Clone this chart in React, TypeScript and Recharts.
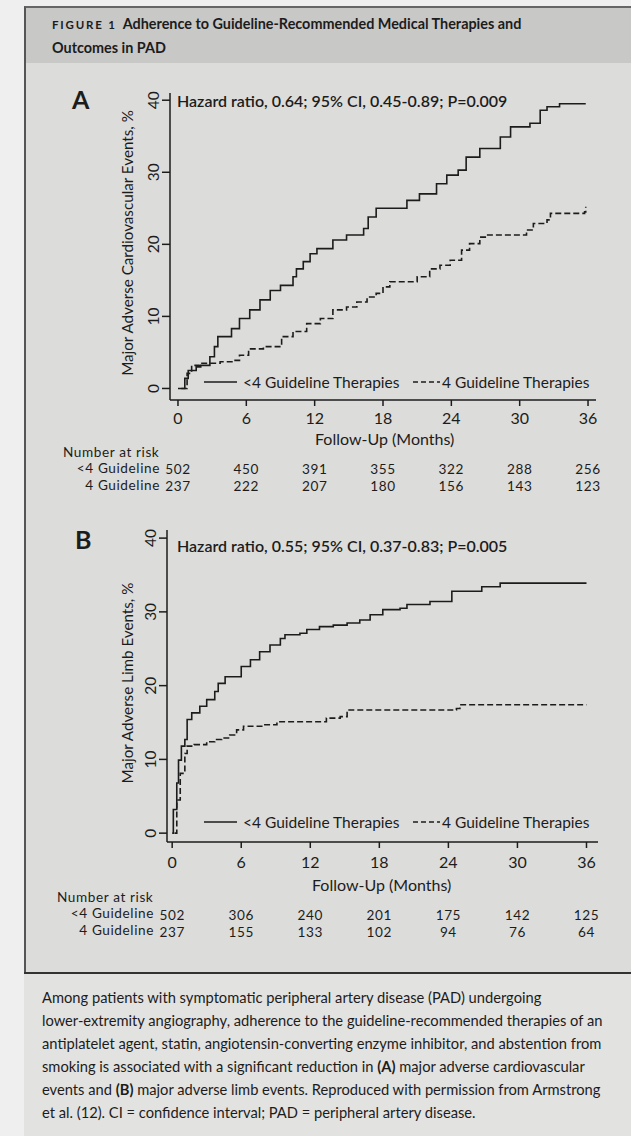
import { LineChart, Line, XAxis, YAxis } from 'recharts'

// follow-up months and number at risk
const months = [0, 6, 12, 18, 24, 30, 36]
const riskMaceUnder4 = [502, 450, 391, 355, 322, 288, 256]
const riskMaceFour = [237, 222, 207, 180, 156, 143, 123]
const riskMaleUnder4 = [502, 306, 240, 201, 175, 142, 125]
const riskMaleFour = [237, 155, 133, 102, 94, 76, 64]
const yTicks = [0, 10, 20, 30, 40]

// panel A, cumulative MACE %
const maceUnder4 = [
  { t: 0, v: 0 }, { t: 0.6, v: 1.4 }, { t: 0.9, v: 2.5 }, { t: 1.6, v: 3.0 }, { t: 2.0, v: 3.2 },
  { t: 2.8, v: 4.4 }, { t: 3.2, v: 5.8 }, { t: 3.5, v: 7.2 }, { t: 4.7, v: 8.3 }, { t: 5.4, v: 9.7 },
  { t: 6.3, v: 10.9 }, { t: 7.2, v: 12.3 }, { t: 8.1, v: 13.6 }, { t: 9.0, v: 14.3 }, { t: 10.1, v: 15.5 },
  { t: 10.4, v: 16.6 }, { t: 11.0, v: 17.6 }, { t: 11.6, v: 18.7 }, { t: 12.2, v: 19.4 }, { t: 13.6, v: 20.6 },
  { t: 14.8, v: 21.3 }, { t: 16.3, v: 22.2 }, { t: 16.7, v: 23.8 }, { t: 17.4, v: 25.0 }, { t: 19.2, v: 25.0 },
  { t: 20.1, v: 26.1 }, { t: 21.2, v: 27.0 }, { t: 22.7, v: 28.4 }, { t: 23.6, v: 29.6 }, { t: 24.6, v: 30.3 },
  { t: 25.3, v: 32.1 }, { t: 26.5, v: 33.3 }, { t: 28.3, v: 34.9 }, { t: 29.2, v: 36.3 }, { t: 30.9, v: 36.8 },
  { t: 31.8, v: 38.6 }, { t: 32.4, v: 39.1 }, { t: 33.5, v: 39.5 }, { t: 35.8, v: 39.5 },
]
const maceFour = [
  { t: 0.3, v: 0 }, { t: 0.8, v: 2.1 }, { t: 1.2, v: 3.2 }, { t: 1.9, v: 3.5 }, { t: 3.7, v: 3.7 },
  { t: 4.9, v: 3.9 }, { t: 5.4, v: 4.6 }, { t: 6.2, v: 5.5 }, { t: 7.5, v: 5.8 }, { t: 9.0, v: 5.8 },
  { t: 9.1, v: 7.2 }, { t: 10.1, v: 7.9 }, { t: 11.3, v: 9.0 }, { t: 12.5, v: 9.7 }, { t: 13.6, v: 10.9 },
  { t: 14.8, v: 11.3 }, { t: 15.7, v: 12.0 }, { t: 16.6, v: 12.7 }, { t: 17.4, v: 13.2 }, { t: 18.0, v: 14.1 },
  { t: 18.6, v: 14.8 }, { t: 19.8, v: 14.8 }, { t: 21.0, v: 15.5 }, { t: 22.1, v: 16.6 }, { t: 23.0, v: 17.1 },
  { t: 23.9, v: 17.8 }, { t: 24.9, v: 19.2 }, { t: 25.6, v: 20.1 }, { t: 26.5, v: 21.0 }, { t: 27.1, v: 21.3 },
  { t: 29.4, v: 21.3 }, { t: 30.6, v: 22.0 }, { t: 31.2, v: 22.9 }, { t: 32.4, v: 23.4 }, { t: 32.7, v: 24.3 },
  { t: 35.7, v: 24.5 }, { t: 35.8, v: 25.2 },
]

// panel B, cumulative MALE %
const maleUnder4 = [
  { t: 0, v: 0 }, { t: 0.1, v: 3.2 }, { t: 0.4, v: 6.8 }, { t: 0.55, v: 9.9 }, { t: 0.8, v: 11.8 },
  { t: 1.1, v: 12.7 }, { t: 1.3, v: 15.4 }, { t: 1.7, v: 16.3 }, { t: 2.4, v: 17.2 }, { t: 3.0, v: 18.1 },
  { t: 3.7, v: 19.2 }, { t: 4.0, v: 20.3 }, { t: 4.6, v: 21.2 }, { t: 5.6, v: 21.2 }, { t: 6.0, v: 22.6 },
  { t: 6.8, v: 23.5 }, { t: 7.6, v: 24.6 }, { t: 8.5, v: 25.5 }, { t: 9.4, v: 26.4 }, { t: 9.8, v: 26.9 },
  { t: 11.1, v: 27.1 }, { t: 11.7, v: 27.6 }, { t: 12.8, v: 28.0 }, { t: 14.0, v: 28.2 }, { t: 15.2, v: 28.5 },
  { t: 16.3, v: 28.9 }, { t: 17.2, v: 29.6 }, { t: 18.3, v: 30.3 }, { t: 19.8, v: 30.5 }, { t: 20.4, v: 31.0 },
  { t: 22.4, v: 31.4 }, { t: 24.3, v: 32.8 }, { t: 26.9, v: 33.4 }, { t: 28.5, v: 33.9 }, { t: 36.0, v: 33.9 },
]
const maleFour = [
  { t: 0.2, v: 0 }, { t: 0.4, v: 4.5 }, { t: 0.7, v: 8.1 }, { t: 1.1, v: 10.8 }, { t: 1.3, v: 11.8 },
  { t: 1.9, v: 12.0 }, { t: 3.0, v: 12.4 }, { t: 3.7, v: 12.7 }, { t: 4.3, v: 12.9 }, { t: 5.0, v: 13.3 },
  { t: 5.6, v: 14.0 }, { t: 6.2, v: 14.5 }, { t: 7.9, v: 14.7 }, { t: 9.1, v: 15.1 }, { t: 13.1, v: 15.1 },
  { t: 13.4, v: 15.6 }, { t: 14.6, v: 15.8 }, { t: 15.2, v: 16.7 }, { t: 24.7, v: 16.9 }, { t: 25.0, v: 17.4 },
  { t: 36.0, v: 17.4 },
]

const INK = '#1c1c1c'
const FONT = 'Lato, "Open Sans", sans-serif'
const RISK_FS = 13.6

function YTick({ x, y, payload }: any) {
  return (
    <text x={x - 1} y={y} transform={`rotate(-90, ${x - 1}, ${y})`} textAnchor="middle" fontSize={15.5} fill={INK} fontFamily={FONT}>
      {payload.value}
    </text>
  )
}

function makeXTick(row1: number[], row2: number[], offs: number[]) {
  return function XTick({ x, y, payload }: any) {
    const i = months.indexOf(payload.value)
    return (
      <g fontFamily={FONT} fill={INK} textAnchor="middle">
        <text x={x} y={y + offs[0]} fontSize={16}>{payload.value}</text>
        <text x={x} y={y + offs[1]} fontSize={RISK_FS} letterSpacing={0.6}>{row1[i]}</text>
        <text x={x} y={y + offs[2]} fontSize={RISK_FS} letterSpacing={0.6}>{row2[i]}</text>
      </g>
    )
  }
}

function Panel(props: any) {
  const { top, margin, xDomain, yDomain, solid, dashed, tick } = props
  return (
    <div style={{ position: 'absolute', left: 0, top }}>
      <LineChart width={631} height={500} margin={margin}>
        <XAxis
          type="number"
          dataKey="t"
          domain={xDomain}
          ticks={months}
          allowDataOverflow
          height={90}
          tickSize={6}
          stroke={INK}
          strokeWidth={1.5}
          tick={tick}
        />
        <YAxis
          type="number"
          dataKey="v"
          domain={yDomain}
          ticks={yTicks}
          allowDataOverflow
          width={30}
          tickSize={8}
          stroke={INK}
          strokeWidth={1.5}
          tick={<YTick />}
        />
        <Line data={solid} dataKey="v" type="stepAfter" stroke={INK} strokeWidth={1.6} dot={false} isAnimationActive={false} />
        <Line data={dashed} dataKey="v" type="stepAfter" stroke={INK} strokeWidth={1.6} strokeDasharray="6 3" dot={false} isAnimationActive={false} />
      </LineChart>
    </div>
  )
}

const abs = (left: number, top: number, extra: any = {}) => ({
  position: 'absolute' as const, left, top, transform: 'translateY(-50%)', whiteSpace: 'nowrap' as const, ...extra,
})

function LegendRow({ top }: { top: number }) {
  return (
    <>
      <svg style={{ position: 'absolute', left: 0, top: top - 5 }} width={631} height={10}>
        <line x1={204} x2={237} y1={5} y2={5} stroke={INK} strokeWidth={1.6} />
        <line x1={413} x2={440} y1={5} y2={5} stroke={INK} strokeWidth={1.6} strokeDasharray="5 3" />
      </svg>
      <div style={abs(243, top, { fontSize: 15.5 })}>&lt;4 Guideline Therapies</div>
      <div style={abs(442, top, { fontSize: 15.5 })}>4 Guideline Therapies</div>
    </>
  )
}

function RiskLabels({ top, right }: { top: number; right: number }) {
  const s = { fontSize: RISK_FS, letterSpacing: 0.6, lineHeight: '14px' }
  return (
    <>
      <div style={abs(right - 97, top - 0.5, s)}>Number at risk</div>
      <div style={abs(0, top + 16.2, { ...s, width: right, textAlign: 'right' })}>&lt;4 Guideline</div>
      <div style={abs(0, top + 32.8, { ...s, width: right, textAlign: 'right' })}>4 Guideline</div>
    </>
  )
}

function RotLabel({ x, y, text }: { x: number; y: number; text: string }) {
  return (
    <div style={{ position: 'absolute', left: x, top: y, transform: 'translate(-50%, -50%) rotate(-90deg)', whiteSpace: 'nowrap', fontSize: 15.2 }}>
      {text}
    </div>
  )
}

export default function App() {
  return (
    <div style={{ position: 'relative', width: 631, height: 1136, overflow: 'hidden', background: '#efefef', fontFamily: FONT, color: INK }}>
      <style>{'body{margin:0}'}</style>
      <div style={{ position: 'absolute', left: 24, top: 6, width: 607, height: 1130, background: '#dcdcda', borderLeft: '2px solid #555', borderTop: '2px solid #666' }} />
      <div style={{ position: 'absolute', left: 26, top: 8, width: 605, height: 55, background: '#c8c8c6' }} />
      <div style={{ position: 'absolute', left: 24, top: 972, width: 607, height: 164, background: '#e2e2e0', borderTop: '2px solid #333' }} />

      <div style={{ position: 'absolute', left: 52, top: 12, fontSize: 14.4, fontWeight: 700, lineHeight: '23px' }}>
        <span style={{ fontSize: 11.5, letterSpacing: 1.8, marginRight: 6 }}>FIGURE 1</span>
        Adherence to Guideline-Recommended Medical Therapies and
        <br />
        Outcomes in PAD
      </div>

      <div style={abs(72, 99, { fontSize: 25, fontWeight: 700 })}>A</div>
      <div style={abs(75, 539, { fontSize: 25, fontWeight: 700 })}>B</div>

      <Panel
        top={0}
        margin={{ top: 93, right: 35, left: 140, bottom: 10 }}
        xDomain={[-0.7, 36.7]}
        yDomain={[-1.6, 41]}
        solid={maceUnder4}
        dashed={maceFour}
        tick={makeXTick(riskMaceUnder4, riskMaceFour, [16, 66, 82.6])}
      />
      <Panel
        top={440}
        margin={{ top: 90, right: 33, left: 137, bottom: 8 }}
        xDomain={[-0.45, 37]}
        yDomain={[-1.2, 41.1]}
        solid={maleUnder4}
        dashed={maleFour}
        tick={makeXTick(riskMaleUnder4, riskMaleFour, [18, 70, 86.6])}
      />

      <div style={abs(177, 100, { fontSize: 16, fontWeight: 600 })}>Hazard ratio, 0.64; 95% CI, 0.45-0.89; P=0.009</div>
      <div style={abs(177, 545, { fontSize: 16, fontWeight: 600 })}>Hazard ratio, 0.55; 95% CI, 0.37-0.83; P=0.005</div>

      <RotLabel x={127} y={243} text="Major Adverse Cardiovascular Events, %" />
      <RotLabel x={127} y={683} text="Major Adverse Limb Events, %" />

      <LegendRow top={382} />
      <LegendRow top={822} />

      <div style={abs(315, 438, { fontSize: 16 })}>Follow-Up (Months)</div>
      <div style={abs(312, 884, { fontSize: 16 })}>Follow-Up (Months)</div>

      <RiskLabels top={452} right={160} />
      <RiskLabels top={897} right={154} />

      <div style={{ position: 'absolute', left: 42, top: 986, fontSize: 14.7, lineHeight: '23px' }}>
        Among patients with symptomatic peripheral artery disease (PAD) undergoing
        <br />
        lower-extremity angiography, adherence to the guideline-recommended therapies of an
        <br />
        antiplatelet agent, statin, angiotensin-converting enzyme inhibitor, and abstention from
        <br />
        smoking is associated with a significant reduction in <b>(A)</b> major adverse cardiovascular
        <br />
        events and <b>(B)</b> major adverse limb events. Reproduced with permission from Armstrong
        <br />
        et al. (12). CI = confidence interval; PAD = peripheral artery disease.
      </div>
    </div>
  )
}
